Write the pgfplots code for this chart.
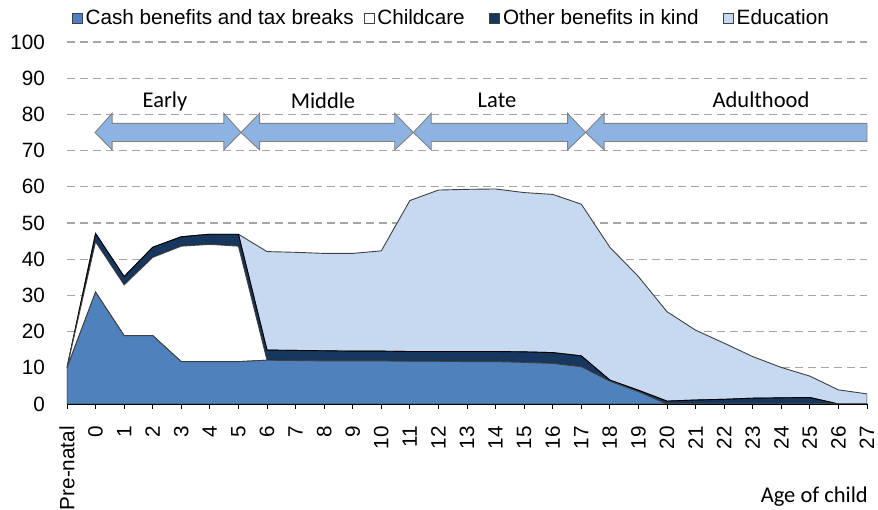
\documentclass[border=0pt]{standalone}
\usepackage{pgfplots}
\pgfplotsset{compat=1.18}
\usepackage{fontspec}
\setmainfont{Liberation Sans}
\newfontfamily\calibri{Carlito}
\definecolor{cash}{HTML}{4F81BD}
\definecolor{navy}{HTML}{17375E}
\definecolor{edu}{HTML}{C6D9F1}
\definecolor{arrowblue}{HTML}{8DB3E2}
\definecolor{gridgray}{HTML}{A6A6A6}
\definecolor{outl}{HTML}{404040}
\begin{document}
\begin{tikzpicture}
\begin{axis}[
  scale only axis, width=800pt, height=362pt,
  xmin=0, xmax=28, ymin=0, ymax=100,
  clip mode=individual,
  stack plots=y,
  axis x line*=bottom, axis y line*=left,
  x axis line style={black, line width=0.8pt, -},
  y axis line style={draw=none},
  ytick={0,10,...,100},
  ymajorgrids,
  grid style={gridgray, dash pattern=on 8pt off 5pt, line width=1.1pt},
  ytick style={draw=none},
  xtick style={black, line width=0.8pt},
  tick align=outside, major tick length=5pt,
  xtick={0,...,28},
  xticklabels={Pre-natal,0,1,2,3,4,5,6,7,8,9,10,11,12,13,14,15,16,17,18,19,20,21,22,23,24,25,26,27},
  /pgf/number format/assume math mode=true,
  tick label style={font=\fontsize{20.7pt}{24pt}\selectfont},
  xticklabel style={rotate=90, anchor=east, inner sep=0pt},
  xticklabel shift=17pt,
  yticklabel style={anchor=east, inner sep=0pt},
  yticklabel shift=17pt,
  legend columns=4,
  legend image code/.code={\draw[#1, line width=0.7pt, draw=outl] (0pt,-5pt) rectangle (10pt,5pt);},
  legend style={at={(axis description cs:0.0059,1.0663)}, anchor=west, draw=none, fill=none,
    inner sep=0pt, font=\fontsize{20.7pt}{24pt}\selectfont,
    nodes={inner sep=0pt}},
]
\coordinate (O) at (rel axis cs:0,0);
% Cash benefits and tax breaks
\addplot[fill=cash, draw=outl, line width=0.9pt] coordinates {
(0,10) (1,30.9) (2,18.9) (3,18.9) (4,11.7) (5,11.7) (6,11.7) (7,12.1) (8,12.0) (9,11.9)
(10,11.9) (11,11.9) (12,11.8) (13,11.8) (14,11.7) (15,11.7) (16,11.5) (17,11.2) (18,10.3)
(19,6.3) (20,3.4) (21,0) (22,0) (23,0) (24,0) (25,0) (26,0) (27,0) (28,0)} \closedcycle;
\addlegendentry{\makebox[281pt][l]{\hspace*{3pt}Cash benefits and tax breaks}}
% Childcare
\addplot[fill=white, draw=outl, line width=0.9pt] coordinates {
(0,0) (1,13.9) (2,14.0) (3,21.6) (4,31.9) (5,32.4) (6,31.9) (7,0) (8,0) (9,0)
(10,0) (11,0) (12,0) (13,0) (14,0) (15,0) (16,0) (17,0) (18,0)
(19,0) (20,0) (21,0) (22,0) (23,0) (24,0) (25,0) (26,0) (27,0) (28,0)} \closedcycle;
\addlegendentry{\makebox[115pt][l]{\hspace*{3pt}Childcare}}
% Other benefits in kind
\addplot[fill=navy, draw=black, line width=0.9pt] coordinates {
(0,0) (1,2.3) (2,2.3) (3,2.8) (4,2.6) (5,2.8) (6,3.3) (7,2.8) (8,2.8) (9,2.8)
(10,2.7) (11,2.7) (12,2.7) (13,2.7) (14,2.8) (15,2.8) (16,2.9) (17,3.0) (18,3.0)
(19,0.3) (20,0.4) (21,0.8) (22,1.1) (23,1.3) (24,1.6) (25,1.7) (26,1.8) (27,0) (28,0)} \closedcycle;
\addlegendentry{\makebox[223pt][l]{\hspace*{3pt}Other benefits in kind}}
% Education
\addplot[fill=edu, draw=outl, line width=0.9pt] coordinates {
(0,0) (1,0) (2,0) (3,0) (4,0) (5,0) (6,0) (7,27.2) (8,27.1) (9,26.9)
(10,27.0) (11,27.7) (12,41.7) (13,44.6) (14,44.8) (15,44.9) (16,44.0) (17,43.7) (18,41.9)
(19,36.7) (20,31.4) (21,24.7) (22,19.3) (23,15.5) (24,11.5) (25,8.4) (26,5.9) (27,3.9) (28,2.8)} \closedcycle;
\addlegendentry{\hspace*{3pt}Education}
% stage arrows
\draw[fill=arrowblue, draw=gray, line width=0.9pt] (0.98,75) -- (1.58,80.3) -- (1.58,77.5) -- (5.49,77.5) -- (5.49,80.3) -- (6.09,75) -- (5.49,70.2) -- (5.49,72.5) -- (1.58,72.5) -- (1.58,70.2) -- cycle;
\draw[fill=arrowblue, draw=gray, line width=0.9pt] (6.09,75) -- (6.74,80.3) -- (6.74,77.5) -- (11.47,77.5) -- (11.47,80.3) -- (12.12,75) -- (11.47,70.2) -- (11.47,72.5) -- (6.74,72.5) -- (6.74,70.2) -- cycle;
\draw[fill=arrowblue, draw=gray, line width=0.9pt] (12.12,75) -- (12.75,80.3) -- (12.75,77.5) -- (17.52,77.5) -- (17.52,80.3) -- (18.15,75) -- (17.52,70.2) -- (17.52,72.5) -- (12.75,72.5) -- (12.75,70.2) -- cycle;
\draw[fill=arrowblue, draw=gray, line width=0.9pt] (18.15,75) -- (18.8,80.3) -- (18.8,77.5) -- (28,77.5) -- (28,72.5) -- (18.8,72.5) -- (18.8,70.2) -- cycle;
\node[anchor=base, font=\calibri\fontsize{22.5pt}{26pt}\selectfont] at (3.43,81.9) {Early};
\node[anchor=base, font=\calibri\fontsize{22.5pt}{26pt}\selectfont] at (8.96,81.5) {Middle};
\node[anchor=base, font=\calibri\fontsize{22.5pt}{26pt}\selectfont] at (15.05,81.9) {Late};
\node[anchor=base, font=\calibri\fontsize{22.5pt}{26pt}\selectfont] at (24.29,81.9) {Adulthood};
\end{axis}
\node[anchor=base east, inner sep=0pt, font=\calibri\fontsize{22.5pt}{26pt}\selectfont] at ([shift={(801pt,-99pt)}]O) {Age of child};
\pgfresetboundingbox
\path[use as bounding box] (O) ++(-67pt,-106pt) rectangle ++(878pt,510pt);
\end{tikzpicture}
\end{document}
